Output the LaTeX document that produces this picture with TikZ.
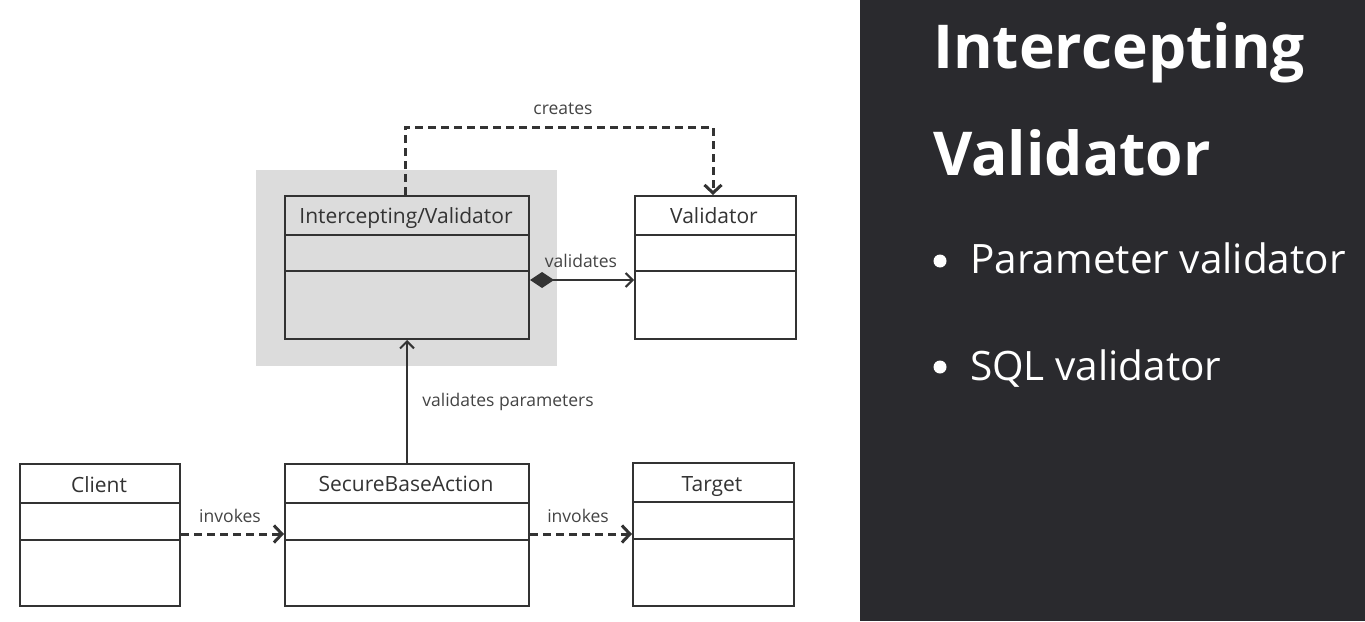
\documentclass[tikz,border=0pt]{standalone}
\usepackage{fontspec}
\setmainfont{Open Sans}[RawFeature=-liga]
\usetikzlibrary{arrows.meta}
\definecolor{panel}{HTML}{2A2A2E}
\definecolor{hlgray}{HTML}{DCDCDC}
\definecolor{ink}{HTML}{333333}
\definecolor{lbl}{HTML}{444444}
\begin{document}
\begin{tikzpicture}[x=1pt,y=-1pt,
  umlbox/.style={draw=ink, line width=2pt, anchor=north west, inner sep=0pt},
  nametext/.style={font=\fontsize{21}{24}\selectfont, text=ink, anchor=base},
  lbltext/.style={font=\fontsize{17.5}{20}\selectfont, text=lbl, anchor=base},
  dashline/.style={draw=ink, line width=3pt, dash pattern=on 8pt off 5pt},
  chev/.style={-{Straight Barb[length=8pt,width=17pt,line width=3pt]}},
  thinchev/.style={-{Straight Barb[length=7pt,width=14pt,line width=2pt]}}
]
\useasboundingbox (0,0) rectangle (1365,621);
\fill[white] (0,0) rectangle (1365,621);
\fill[panel] (860,0) rectangle (1365,621);
% grey highlight
\fill[hlgray] (256,170) rectangle (557,366);

% boxes
\node[umlbox, minimum width=244pt, minimum height=143pt] (iv) at (284,195) {};
\node[umlbox, minimum width=161pt, minimum height=143pt] (val) at (634,195) {};
\node[umlbox, minimum width=160pt, minimum height=142pt] (cl) at (19,463) {};
\node[umlbox, minimum width=244pt, minimum height=142pt] (sba) at (284,463) {};
\node[umlbox, minimum width=161pt, minimum height=143pt] (tg) at (632,462) {};

% dividers
\draw[ink, line width=2pt] (284,235) -- (528,235) (284,271) -- (528,271);
\draw[ink, line width=2pt] (634,235) -- (795,235) (634,271) -- (795,271);
\draw[ink, line width=2pt] (19,503) -- (179,503) (19,540) -- (179,540);
\draw[ink, line width=2pt] (284,503) -- (528,503) (284,540) -- (528,540);
\draw[ink, line width=2pt] (632,502) -- (793,502) (632,539) -- (793,539);

% names
\node[nametext] (ivn) at (406,223) {Intercepting/Validator};
\node[nametext] (valn) at (714,223) {Validator};
\node[nametext] (cln) at (99,492) {Client};
\node[nametext] (sban) at (406,491) {SecureBaseAction};
\node[nametext] (tgn) at (712,491) {Target};

% connectors
\draw[dashline, chev] ([xshift=121pt]iv.north west) -- ++(0,-68) -| ([xshift=79pt]val.north west);
\node[lbltext] (lc) at (563,114) {creates};

\draw[ink, line width=2pt, {Diamond[length=24pt,width=16pt,fill=ink]}-{Straight Barb[length=7pt,width=14pt,line width=2pt]}] ([yshift=-85pt]iv.north east) -- ([yshift=-85pt]val.north west);
\node[lbltext] (lv) at (581,267) {validates};

\draw[ink, line width=2pt, thinchev] (sba.north) -- (iv.south);
\node[lbltext] (lvp) at (508,406) {validates parameters};

\draw[dashline, chev] ([yshift=-71pt]cl.north east) -- ([yshift=-71pt]sba.north west);
\node[lbltext] (li1) at (230,522) {invokes};
\draw[dashline, chev] ([yshift=-71pt]sba.north east) -- ([yshift=-72pt]tg.north west);
\node[lbltext] (li2) at (578,522) {invokes};

% right panel
\node[font=\fontsize{60.5}{62}\selectfont\bfseries, text=white, anchor=base west, inner sep=0pt] (t1) at (933,68) {Intercepting};
\node[font=\fontsize{60.5}{62}\selectfont\bfseries, text=white, anchor=base west, inner sep=0pt] (t2) at (933,175) {Validator};
\fill[white] (940,261) circle (6.5);
\node[font=\fontsize{40.5}{44}\selectfont, text=white, anchor=base west, inner sep=0pt] (b1) at (970,273) {Parameter validator};
\fill[white] (940,367) circle (6.5);
\node[font=\fontsize{40.5}{44}\selectfont, text=white, anchor=base west, inner sep=0pt] (b2) at (970,380) {SQL validator};
\end{tikzpicture}
\end{document}
